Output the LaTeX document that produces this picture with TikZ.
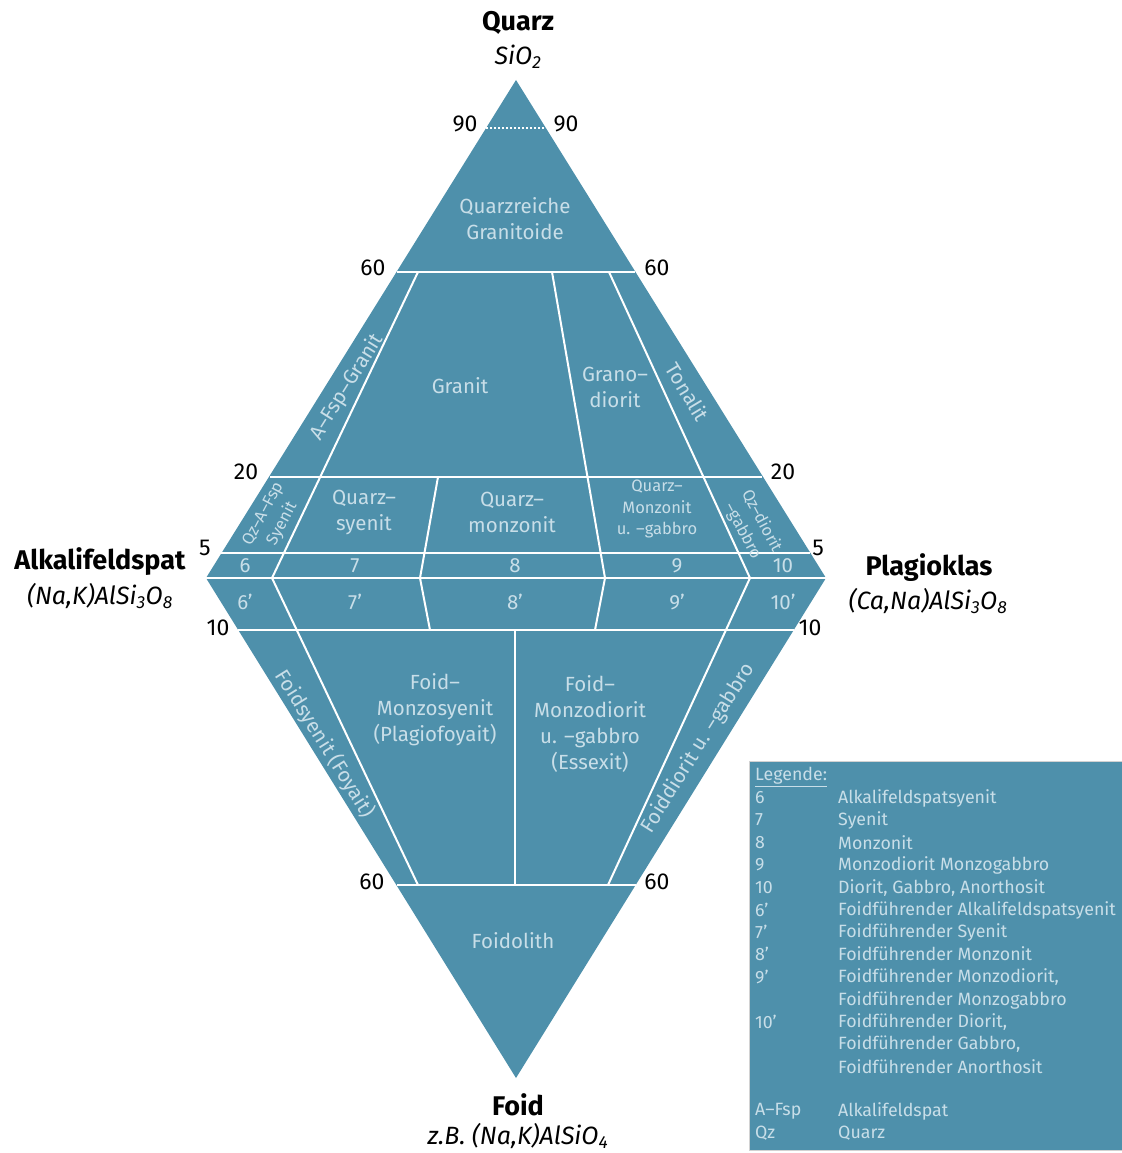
\documentclass[tikz,border=0pt]{standalone}
\usepackage{fontspec}
\setmainfont{Fira Sans}
\definecolor{qfill}{RGB}{78,144,171}
\definecolor{qtext}{RGB}{200,222,232}
\tikzset{
  sepline/.style={white, line width=2pt},
  region/.style={text=qtext, font=\fontsize{20.5}{26}\selectfont, align=center, inner sep=0pt},
  smallregion/.style={text=qtext, font=\fontsize{16.5}{21.5}\selectfont, align=center, inner sep=0pt},
  ticklab/.style={font=\fontsize{23}{26}\selectfont, inner sep=0pt},
  apexlab/.style={font=\bfseries\fontsize{27}{30}\selectfont, inner sep=0pt},
  formula/.style={font=\itshape\fontsize{25}{28}\selectfont, inner sep=0pt},
  legtext/.style={text=qtext, font=\fontsize{17.8}{22}\selectfont, anchor=west, inner sep=0pt},
}
\begin{document}
\begin{tikzpicture}[x=1pt,y=-1pt]
\useasboundingbox (0,0) rectangle (1121,1153);
% vertices
\coordinate (Q) at (516,80);
\coordinate (A) at (206,578);
\coordinate (P) at (826,578);
\coordinate (F) at (516,1078);
\fill[qfill] (Q) -- (P) -- (F) -- (A) -- cycle;
% horizontal lines
\coordinate (n90l) at (486,128);  \coordinate (n90r) at (546,128);
\coordinate (u60l) at (397,272);  \coordinate (u60r) at (635,272);
\coordinate (l20) at (270,477);   \coordinate (r20) at (762,477);
\coordinate (l5) at (221,553);    \coordinate (r5) at (810,553);
\coordinate (l10) at (238,630);   \coordinate (r10) at (794,630);
\coordinate (d60l) at (397,885);  \coordinate (d60r) at (636,885);
\draw[white, line width=2pt, dotted] (n90l) -- (n90r);
\draw[sepline] (u60l) -- (u60r);
\draw[sepline] (l20) -- (r20);
\draw[sepline] (l5) -- (r5);
\draw[sepline] (A) -- (P);
\draw[sepline] (l10) -- (r10);
\draw[sepline] (d60l) -- (d60r);
% dividers
\coordinate (a1) at (418,272); \coordinate (b1) at (272,578); \coordinate (c1) at (418,885);
\coordinate (a2) at (552,272); \coordinate (b2) at (605,578); \coordinate (c2) at (595,630);
\coordinate (a3) at (609,272); \coordinate (b3) at (750,578); \coordinate (c3) at (608,885);
\coordinate (a4) at (438,477); \coordinate (b4) at (420,578); \coordinate (c4) at (430,630);
\coordinate (a5) at (515,630); \coordinate (c5) at (515,885);
\draw[sepline] (a1) -- (b1) -- (c1);
\draw[sepline] (a2) -- (b2) -- (c2);
\draw[sepline] (a3) -- (b3) -- (c3);
\draw[sepline] (a4) -- (b4) -- (c4);
\draw[sepline] (a5) -- (c5);
% apex labels
\node[apexlab] (tQ) at (518,23) {Quarz};
\node[formula] (fQ) at (518,57) {SiO\textsubscript{2}};
\node[apexlab] (tA) at (100,562) {Alkalifeldspat};
\node[formula] (fA) at (100,596) {(Na,K)AlSi\textsubscript{3}O\textsubscript{8}};
\node[apexlab] (tP) at (929,568) {Plagioklas};
\node[formula] (fP) at (928,601) {(Ca,Na)AlSi\textsubscript{3}O\textsubscript{8}};
\node[apexlab] (tF) at (518,1105) {Foid};
\node[formula] (fF) at (518,1136) {z.B. (Na,K)AlSiO\textsubscript{4}};
% tick labels
\node[ticklab] (k90l) at (465,124) {90};
\node[ticklab] (k90r) at (566,124) {90};
\node[ticklab] (k60l) at (373,268) {60};
\node[ticklab] (k60r) at (657,268) {60};
\node[ticklab] (k20l) at (246,472) {20};
\node[ticklab] (k20r) at (783,472) {20};
\node[ticklab] (k5l) at (205,548) {5};
\node[ticklab] (k5r) at (818,548) {5};
\node[ticklab] (k10l) at (218,628) {10};
\node[ticklab] (k10r) at (810,628) {10};
\node[ticklab] (k60dl) at (372,882) {60};
\node[ticklab] (k60dr) at (657,882) {60};
% region labels
\node[region] (rQG) at (515,219) {Quarzreiche\\Granitoide};
\node[region] (rGr) at (460,386) {Granit};
\node[region] (rGd) at (615,387) {Grano–\\diorit};
\node[region, rotate=58] (rAFG) at (347,387) {A–Fsp–Granit};
\node[region, rotate=-59] (rTo) at (688,392) {Tonalit};
\node[region] (rQS) at (364,512) {Quarz–\\syenit};
\node[region] (rQM) at (512,512) {Quarz–\\monzonit};
\node[smallregion] (rQMG) at (657,509) {Quarz–\\Monzonit\\u. –gabbro};
\node[smallregion, rotate=62] (rQAS) at (273,519) {Qz–A–Fsp\\Syenit};
\node[smallregion, rotate=-62] (rQDG) at (752,526) {Qz–diorit\\–gabbro};
\node[region] (r6) at (245,566) {6};
\node[region] (r7) at (355,566) {7};
\node[region] (r8) at (515,566) {8};
\node[region] (r9) at (677,566) {9};
\node[region] (r10) at (783,566) {10};
\node[region] (r6p) at (245,602) {6’};
\node[region] (r7p) at (355,602) {7’};
\node[region] (r8p) at (515,602) {8’};
\node[region] (r9p) at (677,602) {9’};
\node[region] (r10p) at (783,602) {10’};
\node[region] (rFMS) at (435,710) {Foid–\\Monzosyenit\\(Plagiofoyait)};
\node[region] (rFMD) at (590,724) {Foid–\\Monzodiorit\\u. –gabbro\\(Essexit)};
\node[region, rotate=-58] (rFS) at (325,744) {Foidsyenit (Foyait)};
\node[region, rotate=58] (rFD) at (698,748) {Foiddiorit u. –gabbro};
\node[region] (rFo) at (513,941) {Foidolith};
% legend
\fill[qfill, draw=gray!35, line width=0.8pt] (749,761) rectangle (1125,1150);
\node[legtext] (lh) at (755,777) {\underline{Legende:}};
\node[legtext] (l1a) at (755,798) {6};   \node[legtext] (l1b) at (838,798) {Alkalifeldspatsyenit};
\node[legtext] (l2a) at (755,820) {7};   \node[legtext] (l2b) at (838,820) {Syenit};
\node[legtext] (l3a) at (755,843) {8};   \node[legtext] (l3b) at (838,843) {Monzonit};
\node[legtext] (l4a) at (755,865) {9};   \node[legtext] (l4b) at (838,865) {Monzodiorit Monzogabbro};
\node[legtext] (l5a) at (755,888) {10};  \node[legtext] (l5b) at (838,888) {Diorit, Gabbro, Anorthosit};
\node[legtext] (l6a) at (755,910) {6’};  \node[legtext] (l6b) at (838,910) {Foidführender Alkalifeldspatsyenit};
\node[legtext] (l7a) at (755,932) {7’};  \node[legtext] (l7b) at (838,932) {Foidführender Syenit};
\node[legtext] (l8a) at (755,954) {8’};  \node[legtext] (l8b) at (838,954) {Foidführender Monzonit};
\node[legtext] (l9a) at (755,977) {9’};  \node[legtext] (l9b) at (838,977) {Foidführender Monzodiorit,};
\node[legtext] (l9c) at (838,1000) {Foidführender Monzogabbro};
\node[legtext] (l10a) at (755,1022) {10’}; \node[legtext] (l10b) at (838,1022) {Foidführender Diorit,};
\node[legtext] (l10c) at (838,1044) {Foidführender Gabbro,};
\node[legtext] (l10d) at (838,1067) {Foidführender Anorthosit};
\node[legtext] (l11a) at (755,1111) {A–Fsp}; \node[legtext] (l11b) at (838,1111) {Alkalifeldspat};
\node[legtext] (l12a) at (755,1133) {Qz};    \node[legtext] (l12b) at (838,1133) {Quarz};
\end{tikzpicture}
\end{document}
